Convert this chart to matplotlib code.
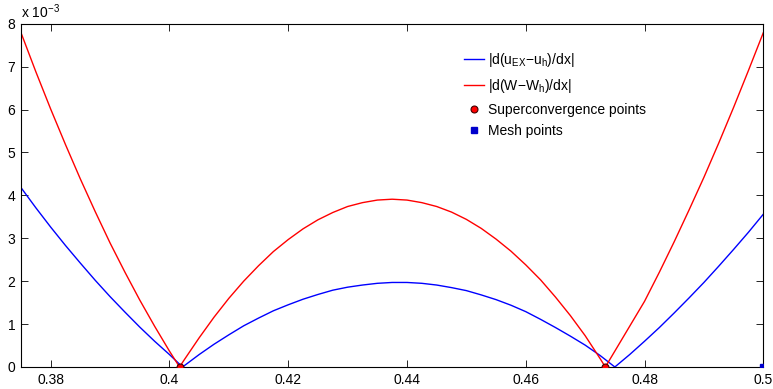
import matplotlib
matplotlib.use("Agg")
import matplotlib.pyplot as plt
from matplotlib.ticker import FuncFormatter

plt.rcParams['font.family'] = ['Liberation Sans', 'DejaVu Sans']
plt.rcParams['mathtext.fontset'] = 'custom'
plt.rcParams['mathtext.rm'] = 'Liberation Sans'
plt.rcParams['mathtext.it'] = 'Liberation Sans'
plt.rcParams['mathtext.default'] = 'regular'

# values (y in units of 1e-3)
red_x = [0.375, 0.3775, 0.38, 0.3825, 0.385, 0.3875, 0.39, 0.3925, 0.395, 0.3975, 0.40, 0.4017,
         0.4025, 0.405, 0.4075, 0.41, 0.4125, 0.415, 0.4175, 0.42, 0.4225, 0.425, 0.4275,
         0.43, 0.4325, 0.435, 0.4375, 0.44, 0.4425, 0.445, 0.4475, 0.45, 0.4525, 0.455,
         0.4575, 0.46, 0.4625, 0.465, 0.4675, 0.47, 0.4725, 0.4734,
         0.475, 0.4775, 0.48, 0.4825, 0.485, 0.4875, 0.49, 0.4925, 0.495, 0.4975, 0.5]
red_y = [7.79, 6.88, 6.01, 5.18, 4.38, 3.62, 2.89, 2.21, 1.56, 0.95, 0.37, 0.0,
         0.17, 0.68, 1.16, 1.60, 2.00, 2.36, 2.69, 2.97, 3.22, 3.43, 3.60,
         3.74, 3.83, 3.89, 3.91, 3.89, 3.83, 3.74, 3.61, 3.44, 3.23, 2.98,
         2.70, 2.38, 2.03, 1.63, 1.20, 0.73, 0.20, 0.0,
         0.37, 0.95, 1.53, 2.21, 2.92, 3.66, 4.42, 5.22, 6.05, 6.91, 7.79]

blue_x = [0.375, 0.3775, 0.38, 0.3825, 0.385, 0.3875, 0.39, 0.3925, 0.395, 0.3975, 0.40, 0.4022,
          0.405, 0.4075, 0.41, 0.4125, 0.415, 0.4175, 0.42, 0.4225, 0.425, 0.4275, 0.43,
          0.4325, 0.435, 0.4375, 0.44, 0.4425, 0.445, 0.4475, 0.45, 0.4525, 0.455, 0.4575,
          0.46, 0.4625, 0.465, 0.4675, 0.47, 0.4725, 0.475,
          0.4775, 0.48, 0.4825, 0.485, 0.4875, 0.49, 0.4925, 0.495, 0.4975, 0.5]
blue_y = [4.18, 3.71, 3.26, 2.83, 2.42, 2.02, 1.64, 1.28, 0.93, 0.60, 0.29, 0.0,
          0.29, 0.53, 0.75, 0.96, 1.14, 1.31, 1.45, 1.58, 1.69, 1.79, 1.86,
          1.91, 1.95, 1.97, 1.97, 1.95, 1.91, 1.85, 1.78, 1.68, 1.57, 1.44,
          1.29, 1.11, 0.92, 0.72, 0.51, 0.27, 0.0,
          0.29, 0.60, 0.92, 1.26, 1.61, 1.97, 2.35, 2.74, 3.14, 3.56]

super_x = [0.4017, 0.4734]
super_y = [0.0, 0.0]
mesh_x = [0.5]
mesh_y = [0.0]

xticks = [0.38, 0.40, 0.42, 0.44, 0.46, 0.48, 0.50]
yticks = [0, 1, 2, 3, 4, 5, 6, 7, 8]

fig = plt.figure(figsize=(7.73, 3.89), dpi=100)
ax = fig.add_axes([21 / 773, 1 - 367 / 389, (763.3 - 21) / 773, (367 - 23.7) / 389])

ax.plot(blue_x, blue_y, color='#0000ff', lw=1.0, label='|d(u$_{EX}$\u2212u$_{h}$)/dx|')
ax.plot(red_x, red_y, color='#ff0000', lw=1.0, label='|d(W\u2212W$_{h}$)/dx|')
ax.plot(super_x, super_y, 'o', color='#ff0000', mec='#400000', mew=0.8, ms=5,
        label='Superconvergence points', zorder=5)
ax.plot(mesh_x, mesh_y, 's', color='#0000cc', mec='#0000cc', ms=4,
        label='Mesh points', zorder=5)

ax.set_xlim(0.375, 0.5)
ax.set_ylim(0, 8)
ax.set_xticks(xticks)
ax.set_yticks(yticks)
ax.xaxis.set_major_formatter(FuncFormatter(lambda v, p: '%g' % round(v, 4)))
ax.tick_params(direction='in', length=5, width=0.6, top=True, right=True,
               labelsize=10, pad=4)
for s in ax.spines.values():
    s.set_linewidth(0.8)

ax.text(0.0, 1.008, 'x 10$^{-3}$', transform=ax.transAxes, fontsize=10,
        ha='left', va='bottom')

leg = ax.legend(loc='upper left', bbox_to_anchor=(0.5875, 0.94), frameon=False,
                fontsize=10, handlelength=1.45, handletextpad=0.25,
                labelspacing=0.55, borderpad=0.0)

fig.savefig('out.png', dpi=100)
